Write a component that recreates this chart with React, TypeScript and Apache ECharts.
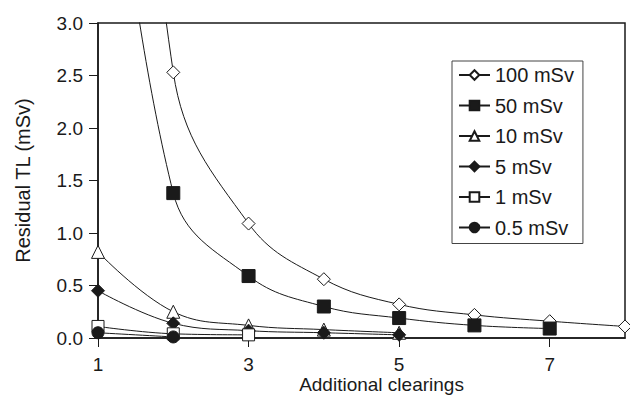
import React, { useEffect, useRef } from "react";
import * as echarts from "echarts";

const seriesNames = ["100 mSv", "50 mSv", "10 mSv", "5 mSv", "1 mSv", "0.5 mSv"];
const clearings100 = [1, 2, 3, 4, 5, 6, 7, 8];
const values100 = [10.8, 2.53, 1.09, 0.56, 0.32, 0.22, 0.16, 0.11];
const clearings50 = [1, 2, 3, 4, 5, 6, 7];
const values50 = [6.3, 1.38, 0.59, 0.3, 0.19, 0.12, 0.09];
const clearings10 = [1, 2, 3, 4, 5];
const values10 = [0.82, 0.25, 0.12, 0.08, 0.05];
const clearings5 = [1, 2, 3, 4, 5];
const values5 = [0.45, 0.14, 0.07, 0.05, 0.03];
const clearings1 = [1, 2, 3];
const values1 = [0.11, 0.04, 0.03];
const clearings05 = [1, 2];
const values05 = [0.05, 0.01];
// the first points of the two highest series lie far above the axis (curve only)
const hiddenFirst = [true, true, false, false, false, false];

const FONT = "Liberation Sans, Arial, Helvetica, sans-serif";
const INK = "#1a1a1a";

export default function App() {
  const ref = useRef<HTMLDivElement>(null);
  useEffect(() => {
    if (!ref.current) return;
    const chart = echarts.init(ref.current, undefined, { renderer: "svg" });
    const xs = [clearings100, clearings50, clearings10, clearings5, clearings1, clearings05];
    const ys = [values100, values50, values10, values5, values1, values05];
    const symbols = ["diamond", "rect", "triangle", "diamond", "rect", "circle"];
    const filled = [false, true, false, true, false, true];
    const sizes = [13, 13, 13, 13, 12, 12];
    const series = seriesNames.map((name, i) => ({
      name,
      type: "line",
      smooth: 0.4,
      symbol: symbols[i],
      symbolSize: sizes[i],
      clip: true,
      lineStyle: { color: INK, width: 1 },
      itemStyle: {
        color: filled[i] ? INK : "#ffffff",
        borderColor: INK,
        borderWidth: 1,
      },
      data: xs[i].map((x, j) =>
        j === 0 && hiddenFirst[i]
          ? { value: [x, ys[i][j]], symbol: "none" }
          : [x, ys[i][j]]
      ),
      z: 2 + i,
    }));
    chart.setOption({
      animation: false,
      textStyle: { fontFamily: FONT },
      grid: {
        left: 98,
        right: 5,
        top: 23,
        bottom: 58,
        outerBoundsMode: "none",
        containLabel: false,
        show: true,
        borderColor: INK,
        borderWidth: 1.5,
        backgroundColor: "transparent",
      },
      legend: {
        orient: "vertical",
        left: 452,
        top: 61,
        padding: [4, 9, 6, 6],
        itemGap: 10.5,
        itemWidth: 31,
        itemHeight: 12,
        borderColor: "#444",
        borderWidth: 1,
        backgroundColor: "#fff",
        textStyle: { fontFamily: FONT, fontSize: 20, color: INK, lineHeight: 20 },
        data: seriesNames,
      },
      xAxis: {
        type: "value",
        min: 1,
        max: 8,
        interval: 2,
        name: "Additional clearings",
        nameLocation: "middle",
        nameGap: 36,
        nameMoveOverlap: false,
        nameTextStyle: { fontSize: 19, color: INK, fontFamily: FONT, padding: [0, 0, 0, 40], lineHeight: 21 },
        axisLine: { show: true, lineStyle: { color: INK, width: 1.5 } },
        axisTick: { show: true, inside: false, length: 9, lineStyle: { color: INK } },
        axisLabel: { fontSize: 19, color: INK, margin: 17, showMaxLabel: false, fontFamily: FONT },
        splitLine: { show: false },
      },
      yAxis: {
        type: "value",
        min: 0,
        max: 3,
        interval: 0.5,
        name: "Residual TL (mSv)",
        nameLocation: "middle",
        nameGap: 65,
        nameMoveOverlap: false,
        nameTextStyle: { fontSize: 20, color: INK, fontFamily: FONT },
        axisLine: { show: true, lineStyle: { color: INK, width: 1.5 } },
        axisTick: { show: true, inside: false, length: 9, lineStyle: { color: INK } },
        axisLabel: {
          fontSize: 19,
          color: INK,
          margin: 15,
          fontFamily: FONT,
          formatter: (v: number) => v.toFixed(1),
        },
        splitLine: { show: false },
      },
      series,
    });
    return () => chart.dispose();
  }, []);
  return <div ref={ref} style={{ width: 630, height: 396, position: "absolute", left: 0, top: 0 }} />;
}
